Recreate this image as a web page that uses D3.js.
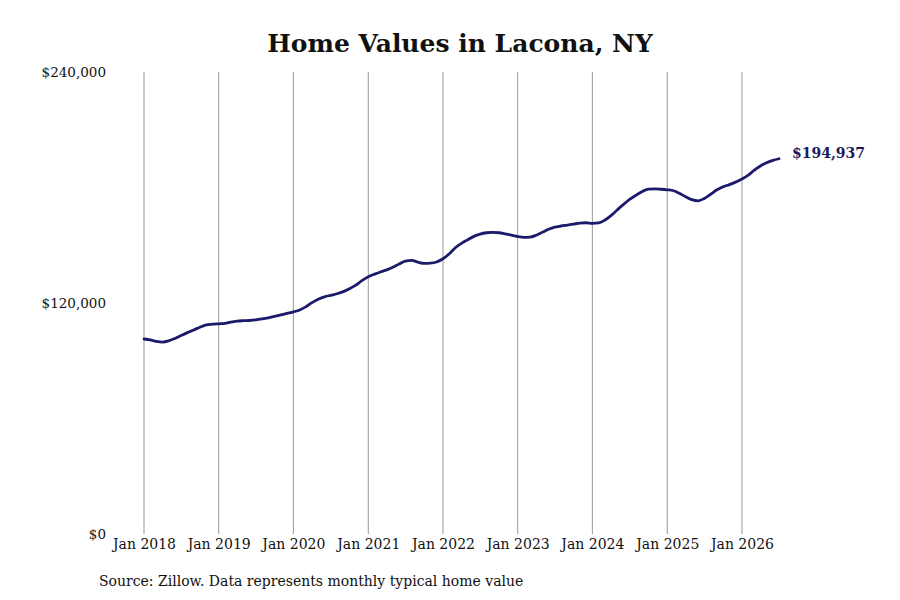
<!DOCTYPE html>
<html>
<head>
<meta charset="utf-8">
<script src="https://cdn.jsdelivr.net/npm/d3@7"></script>
<style>
  body { margin: 0; background: #fff; }
  svg { display: block; }
  text { font-family: "DejaVu Serif", serif; }
</style>
</head>
<body>
<svg id="chart" width="900" height="600"></svg>
<script>
const titleText = "Home Values in Lacona, NY";
const sourceText = "Source: Zillow. Data represents monthly typical home value";
const startMonth = "2018-01";
// monthly typical home value, Jan 2018 – Jul 2026 (thousands of $)
const values2018 = [101.3, 100.8, 100.1, 99.7, 100.3, 101.6, 103.1, 104.6, 106.0, 107.4, 108.6, 109.0];
const values2019 = [109.2, 109.4, 110.1, 110.6, 110.8, 110.9, 111.2, 111.7, 112.3, 113.0, 113.8, 114.6];
const values2020 = [115.4, 116.4, 118.0, 120.2, 122.0, 123.2, 124.0, 124.8, 125.9, 127.4, 129.3, 131.6];
const values2021 = [133.6, 135.0, 136.1, 137.2, 138.6, 140.3, 141.8, 142.1, 141.2, 140.6, 140.7, 141.3];
const values2022 = [143.0, 145.6, 148.6, 151.0, 152.8, 154.6, 155.8, 156.5, 156.7, 156.5, 155.9, 155.2];
const values2023 = [154.5, 154.1, 154.2, 155.2, 156.7, 158.3, 159.4, 160.0, 160.5, 161.0, 161.5, 161.7];
const values2024 = [161.4, 161.6, 163.0, 165.4, 168.3, 171.2, 173.8, 176.0, 177.9, 179.2, 179.3, 179.1];
const values2025 = [178.8, 178.3, 177.0, 175.2, 173.7, 173.1, 174.3, 176.5, 178.8, 180.4, 181.5, 182.8];
const values2026 = [184.4, 186.4, 188.9, 191.2, 192.9, 194.1, 194.937];
const yTicks = [0, 120000, 240000];
const xTickYears = [2018, 2019, 2020, 2021, 2022, 2023, 2024, 2025, 2026];

const allValues = [].concat(values2018, values2019, values2020, values2021, values2022,
                            values2023, values2024, values2025, values2026);
const parse = d3.timeParse("%Y-%m");
const t0 = parse(startMonth);
const data = allValues.map((v, i) => ({ date: d3.timeMonth.offset(t0, i), value: v * 1000 }));

const svg = d3.select("#chart");
const x = d3.scaleTime()
  .domain([t0, data[data.length - 1].date])
  .range([144, 779]);
const y = d3.scaleLinear().domain([0, 240000]).range([534, 72]);

// title
svg.append("text")
  .attr("x", 460).attr("y", 52)
  .attr("text-anchor", "middle")
  .attr("font-size", 25).attr("font-weight", "bold")
  .attr("fill", "#111")
  .text(titleText);

// vertical grid lines
const tickDates = xTickYears.map(yr => new Date(yr, 0, 1));
svg.append("g").selectAll("line").data(tickDates).join("line")
  .attr("x1", d => x(d)).attr("x2", d => x(d))
  .attr("y1", y(240000)).attr("y2", y(0))
  .attr("stroke", "#999").attr("stroke-width", 1);

// x labels
const xAxis = d3.axisBottom(x).tickValues(tickDates).tickFormat(d3.timeFormat("Jan %Y")).tickSize(0).tickPadding(5);
const gx = svg.append("g").attr("transform", `translate(0,${y(0)})`).call(xAxis);
gx.select(".domain").remove();
gx.selectAll("text").attr("font-family", "DejaVu Serif").attr("font-size", 14).attr("fill", "#111");

// y labels
const yAxis = d3.axisLeft(y).tickValues(yTicks).tickFormat(d => "$" + d3.format(",")(d)).tickSize(0).tickPadding(0);
const gy = svg.append("g").attr("transform", "translate(106,0)").call(yAxis);
gy.select(".domain").remove();
gy.selectAll("text").attr("font-family", "DejaVu Serif").attr("font-size", 13.5).attr("fill", "#111");

// line
const line = d3.line().x(d => x(d.date)).y(d => y(d.value)).curve(d3.curveMonotoneX);
svg.append("path").datum(data)
  .attr("d", line)
  .attr("fill", "none")
  .attr("stroke", "#1b1a6b")
  .attr("stroke-width", 2.8)
  .attr("stroke-linejoin", "round")
  .attr("stroke-linecap", "round");

// end label
const last = data[data.length - 1];
svg.append("text")
  .attr("x", x(last.date) + 13).attr("y", y(last.value) - 1)
  .attr("font-size", 14).attr("font-weight", "bold")
  .attr("fill", "#1b1a5e")
  .text("$" + d3.format(",")(Math.round(last.value)));

// source
svg.append("text")
  .attr("x", 99).attr("y", 586)
  .attr("font-size", 14).attr("fill", "#111")
  .text(sourceText);
</script>
</body>
</html>
